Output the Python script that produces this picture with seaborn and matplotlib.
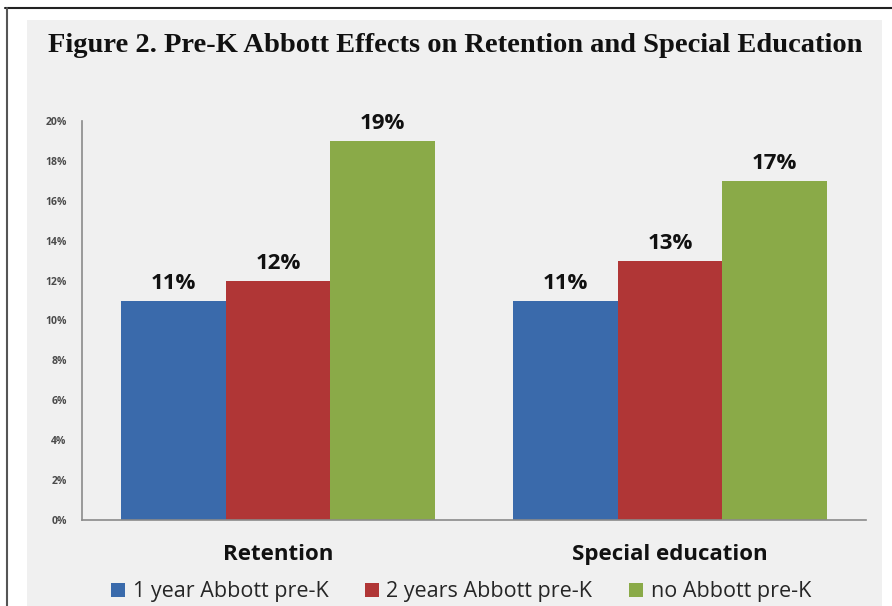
import matplotlib
matplotlib.use("Agg")
import matplotlib.pyplot as plt
import seaborn as sns
import pandas as pd
from matplotlib.patches import Rectangle, Patch
from matplotlib.lines import Line2D
from matplotlib.ticker import FuncFormatter

categories = ["Retention", "Special education"]
series = ["1 year Abbott pre-K", "2 years Abbott pre-K", "no Abbott pre-K"]
values_1yr = [11, 11]
values_2yr = [12, 13]
values_none = [19, 17]
colors = ["#3a6aab", "#b03636", "#8aaa48"]

rows = []
for s, vals in zip(series, [values_1yr, values_2yr, values_none]):
    for c, v in zip(categories, vals):
        rows.append({"category": c, "series": s, "value": v})
df = pd.DataFrame(rows)

sns.set_theme(style="white")
plt.rcParams['font.family'] = ['Open Sans', 'DejaVu Sans']

W, H = 892, 606
fig = plt.figure(figsize=(W / 100, H / 100), dpi=100)
fig.patch.set_facecolor("white")

# gray panel
fig.add_artist(Rectangle((27 / W, 0), (882 - 27) / W, 1 - 20 / H,
                         transform=fig.transFigure, facecolor="#f0f0f0",
                         edgecolor="none", zorder=0))
# frame lines
fig.add_artist(Line2D([5 / W, 1], [1 - 8 / H, 1 - 8 / H], transform=fig.transFigure,
                      color="#222222", lw=1.5))
fig.add_artist(Line2D([7 / W, 7 / W], [0, 1 - 8 / H], transform=fig.transFigure,
                      color="#555555", lw=1.5))

ax = fig.add_axes([82 / W, 1 - 520 / H, (866 - 82) / W, (520 - 121) / H])
ax.set_facecolor("none")

sns.barplot(data=df, x="category", y="value", hue="series", order=categories,
            hue_order=series, palette=colors, width=0.8, saturation=1,
            ax=ax, legend=False, edgecolor="none")

ax.set_ylim(0, 20)
ax.set_yticks(range(0, 21, 2))
ax.yaxis.set_major_formatter(FuncFormatter(lambda v, p: f"{int(v)}%"))
for lab in ax.get_yticklabels():
    lab.set_fontsize(7.5)
    lab.set_fontweight("bold")
    lab.set_color("#4a4a4a")
ax.tick_params(axis="y", length=0, pad=11)
ax.tick_params(axis="x", length=0, pad=17)
for lab in ax.get_xticklabels():
    lab.set_fontsize(16)
    lab.set_fontweight("bold")
    lab.set_color("#111111")
ax.set_xlabel("")
ax.set_ylabel("")
for side in ["top", "right"]:
    ax.spines[side].set_visible(False)
for side in ["left", "bottom"]:
    ax.spines[side].set_color("#8a8a8a")
    ax.spines[side].set_linewidth(1.2)

for cont in ax.containers:
    ax.bar_label(cont, labels=[f"{int(v)}%" for v in cont.datavalues], padding=5,
                 fontsize=16, fontweight="bold", color="#111111")

fig.text(455 / W, 1 - 45 / H,
         "Figure 2. Pre-K Abbott Effects on Retention and Special Education",
         ha="center", va="center", fontsize=20.5, fontweight="bold",
         family=["Liberation Serif", "DejaVu Serif"], color="#111111")

handles = [Patch(facecolor=c, edgecolor="none") for c in colors]
fig.legend(handles, series, loc="center", bbox_to_anchor=(461 / W, 1 - 592 / H),
           ncol=3, frameon=False, fontsize=15.5, handlelength=0.65, handleheight=0.65,
           handletextpad=0.35, columnspacing=1.7, borderaxespad=0)

fig.savefig("out.png", dpi=100)
